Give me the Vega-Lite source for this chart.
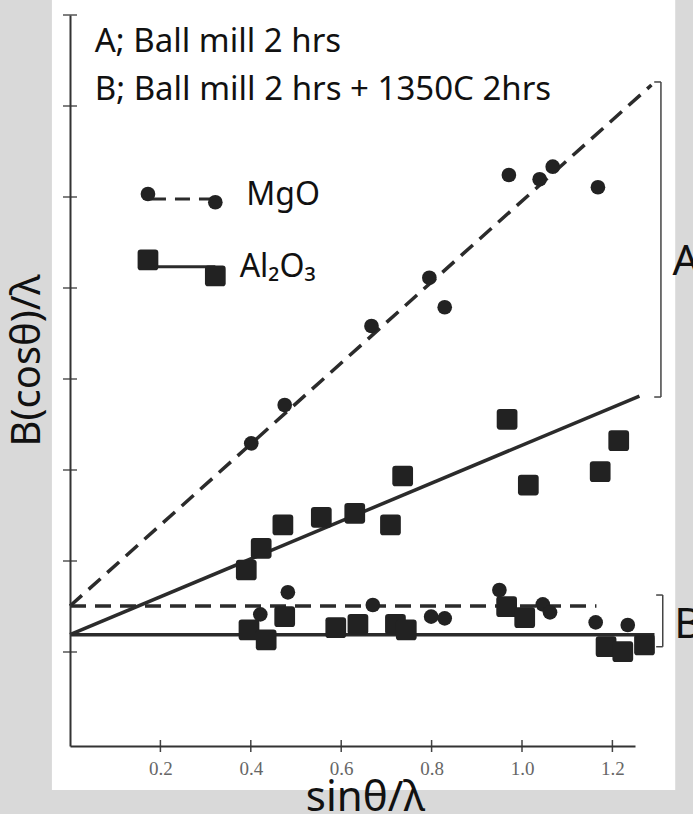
{
  "$schema": "https://vega.github.io/schema/vega-lite/v6.json",
  "width": 565,
  "height": 731,
  "autosize": {"type": "none"},
  "padding": {"left": 70, "top": 15, "right": 58, "bottom": 68},
  "background": "#d9d9d9",
  "config": {"view": {"stroke": null}, "font": "Noto Sans"},
  "datasets": {
    "paper": [{"x": -0.04, "x2": 1.339, "y": -0.516, "y2": 8.3}],
    "segments": [
      {"material": "MgO", "role": "fit", "x": 0, "y": 1.505, "x2": 1.2864, "y2": 7.231},
      {"material": "MgO", "role": "fit", "x": 0, "y": 1.505, "x2": 1.1647, "y2": 1.505},
      {"material": "Al2O3", "role": "fit", "x": 0, "y": 1.19, "x2": 1.2598, "y2": 3.813},
      {"material": "Al2O3", "role": "fit", "x": 0, "y": 1.19, "x2": 1.2931, "y2": 1.19},
      {"material": "MgO", "role": "legend", "x": 0.1725, "y": 5.978, "x2": 0.3215, "y2": 5.978},
      {"material": "Al2O3", "role": "legend", "x": 0.1725, "y": 5.234, "x2": 0.3215, "y2": 5.234},
      {"material": "A", "role": "bracket", "x": 1.3074, "y": 7.264, "x2": 1.3074, "y2": 3.802},
      {"material": "A", "role": "bracket", "x": 1.2925, "y": 7.264, "x2": 1.3074, "y2": 7.264},
      {"material": "A", "role": "bracket", "x": 1.2925, "y": 3.802, "x2": 1.3074, "y2": 3.802},
      {"material": "B", "role": "bracket", "x": 1.3114, "y": 1.626, "x2": 1.3114, "y2": 1.058},
      {"material": "B", "role": "bracket", "x": 1.2968, "y": 1.626, "x2": 1.3114, "y2": 1.626},
      {"material": "B", "role": "bracket", "x": 1.2968, "y": 1.058, "x2": 1.3114, "y2": 1.058}
    ],
    "xticks": [
      {"x": 0.2, "y": -0.033}, {"x": 0.4, "y": -0.033}, {"x": 0.6, "y": -0.033},
      {"x": 0.8, "y": -0.033}, {"x": 1.0, "y": -0.033}, {"x": 1.2, "y": -0.033}
    ],
    "yticks": [
      {"x": 0, "y": 1}, {"x": 0, "y": 2}, {"x": 0, "y": 3}, {"x": 0, "y": 4},
      {"x": 0, "y": 5}, {"x": 0, "y": 6}, {"x": 0, "y": 7}, {"x": 0, "y": 8}
    ],
    "points": [
      {"material": "MgO", "condition": "A", "x": 0.401, "y": 3.293},
      {"material": "MgO", "condition": "A", "x": 0.475, "y": 3.714},
      {"material": "MgO", "condition": "A", "x": 0.667, "y": 4.582},
      {"material": "MgO", "condition": "A", "x": 0.795, "y": 5.113},
      {"material": "MgO", "condition": "A", "x": 0.829, "y": 4.788},
      {"material": "MgO", "condition": "A", "x": 0.971, "y": 6.242},
      {"material": "MgO", "condition": "A", "x": 1.039, "y": 6.195},
      {"material": "MgO", "condition": "A", "x": 1.068, "y": 6.333},
      {"material": "MgO", "condition": "A", "x": 1.168, "y": 6.107},
      {"material": "MgO", "condition": "B", "x": 0.421, "y": 1.414},
      {"material": "MgO", "condition": "B", "x": 0.482, "y": 1.656},
      {"material": "MgO", "condition": "B", "x": 0.670, "y": 1.516},
      {"material": "MgO", "condition": "B", "x": 0.799, "y": 1.388},
      {"material": "MgO", "condition": "B", "x": 0.829, "y": 1.370},
      {"material": "MgO", "condition": "B", "x": 0.950, "y": 1.681},
      {"material": "MgO", "condition": "B", "x": 1.046, "y": 1.524},
      {"material": "MgO", "condition": "B", "x": 1.062, "y": 1.436},
      {"material": "MgO", "condition": "B", "x": 1.163, "y": 1.326},
      {"material": "MgO", "condition": "B", "x": 1.234, "y": 1.297},
      {"material": "MgO", "condition": "legend", "x": 0.1725, "y": 6.033},
      {"material": "MgO", "condition": "legend", "x": 0.3215, "y": 5.942},
      {"material": "Al2O3", "condition": "A", "x": 0.390, "y": 1.901},
      {"material": "Al2O3", "condition": "A", "x": 0.423, "y": 2.140},
      {"material": "Al2O3", "condition": "A", "x": 0.471, "y": 2.396},
      {"material": "Al2O3", "condition": "A", "x": 0.556, "y": 2.480},
      {"material": "Al2O3", "condition": "A", "x": 0.630, "y": 2.524},
      {"material": "Al2O3", "condition": "A", "x": 0.709, "y": 2.396},
      {"material": "Al2O3", "condition": "A", "x": 0.736, "y": 2.934},
      {"material": "Al2O3", "condition": "A", "x": 0.967, "y": 3.557},
      {"material": "Al2O3", "condition": "A", "x": 1.014, "y": 2.835},
      {"material": "Al2O3", "condition": "A", "x": 1.173, "y": 2.981},
      {"material": "Al2O3", "condition": "A", "x": 1.214, "y": 3.322},
      {"material": "Al2O3", "condition": "B", "x": 0.396, "y": 1.242},
      {"material": "Al2O3", "condition": "B", "x": 0.434, "y": 1.132},
      {"material": "Al2O3", "condition": "B", "x": 0.475, "y": 1.388},
      {"material": "Al2O3", "condition": "B", "x": 0.588, "y": 1.267},
      {"material": "Al2O3", "condition": "B", "x": 0.637, "y": 1.304},
      {"material": "Al2O3", "condition": "B", "x": 0.720, "y": 1.304},
      {"material": "Al2O3", "condition": "B", "x": 0.744, "y": 1.242},
      {"material": "Al2O3", "condition": "B", "x": 0.966, "y": 1.498},
      {"material": "Al2O3", "condition": "B", "x": 1.006, "y": 1.377},
      {"material": "Al2O3", "condition": "B", "x": 1.186, "y": 1.058},
      {"material": "Al2O3", "condition": "B", "x": 1.223, "y": 1.003},
      {"material": "Al2O3", "condition": "B", "x": 1.271, "y": 1.077},
      {"material": "Al2O3", "condition": "legend", "x": 0.1725, "y": 5.308},
      {"material": "Al2O3", "condition": "legend", "x": 0.3215, "y": 5.132}
    ],
    "notes": [
      {"role": "header", "x": 0.0548, "y": 7.593, "text": "A; Ball mill 2 hrs"},
      {"role": "header", "x": 0.0548, "y": 7.066, "text": "B; Ball mill 2 hrs + 1350C 2hrs"},
      {"role": "legend", "x": 0.390, "y": 5.912, "text": "MgO"},
      {"role": "legend", "x": 0.3753, "y": 5.121, "text": "Al₂O₃"},
      {"role": "bracket", "x": 1.3328, "y": 5.286, "text": "A"},
      {"role": "bracket", "x": 1.337, "y": 1.297, "text": "B"}
    ]
  },
  "encoding": {
    "x": {
      "field": "x", "type": "quantitative",
      "scale": {"domain": [0, 1.25], "nice": false, "zero": false},
      "axis": {
        "title": "sinθ/λ", "values": [0.2, 0.4, 0.6, 0.8, 1.0, 1.2], "format": ".1f",
        "grid": false, "ticks": false, "tickSize": 0,
        "domainColor": "#333", "domainWidth": 2,
        "labelFont": "Liberation Serif", "labelFontSize": 19, "labelColor": "#666", "labelPadding": 13,
        "titleFont": "Noto Sans", "titleFontSize": 42, "titleFontWeight": "normal", "titleColor": "#111",
        "titleX": 295, "titleY": 64, "titleBaseline": "alphabetic", "zindex": 1
      }
    },
    "y": {
      "field": "y", "type": "quantitative",
      "scale": {"domain": [-0.033, 8], "nice": false, "zero": false},
      "axis": {
        "title": "B(cosθ)/λ", "grid": false, "ticks": false, "labels": false,
        "domainColor": "#333", "domainWidth": 2,
        "titleFont": "Noto Sans", "titleFontSize": 40, "titleFontWeight": "normal", "titleColor": "#111",
        "titleX": -43, "titleY": 345, "titleBaseline": "middle", "titleAngle": 270, "zindex": 1
      }
    }
  },
  "layer": [
    {
      "data": {"name": "paper"},
      "mark": {"type": "rect", "color": "white"},
      "encoding": {"x2": {"field": "x2"}, "y2": {"field": "y2"}}
    },
    {
      "data": {"name": "segments"},
      "transform": [{"filter": "datum.role == 'fit' && datum.material == 'MgO'"}],
      "mark": {"type": "rule", "color": "#2b2b2b", "strokeWidth": 3.5, "strokeDash": [16, 9]},
      "encoding": {"x2": {"field": "x2"}, "y2": {"field": "y2"}}
    },
    {
      "data": {"name": "segments"},
      "transform": [{"filter": "datum.role == 'fit' && datum.material == 'Al2O3'"}],
      "mark": {"type": "rule", "color": "#2b2b2b", "strokeWidth": 3.5},
      "encoding": {"x2": {"field": "x2"}, "y2": {"field": "y2"}}
    },
    {
      "data": {"name": "segments"},
      "transform": [{"filter": "datum.role == 'legend' && datum.material == 'MgO'"}],
      "mark": {"type": "rule", "color": "#2b2b2b", "strokeWidth": 3, "strokeDash": [15, 9], "strokeDashOffset": -3},
      "encoding": {"x2": {"field": "x2"}, "y2": {"field": "y2"}}
    },
    {
      "data": {"name": "segments"},
      "transform": [{"filter": "datum.role == 'legend' && datum.material == 'Al2O3'"}],
      "mark": {"type": "rule", "color": "#2b2b2b", "strokeWidth": 3},
      "encoding": {"x2": {"field": "x2"}, "y2": {"field": "y2"}}
    },
    {
      "data": {"name": "segments"},
      "transform": [{"filter": "datum.role == 'bracket'"}],
      "mark": {"type": "rule", "color": "#444", "strokeWidth": 1.5},
      "encoding": {"x2": {"field": "x2"}, "y2": {"field": "y2"}}
    },
    {
      "data": {"name": "xticks"},
      "mark": {"type": "tick", "orient": "vertical", "size": 12, "thickness": 1.5, "color": "#444", "opacity": 1}
    },
    {
      "data": {"name": "yticks"},
      "mark": {"type": "tick", "orient": "horizontal", "size": 14, "thickness": 1.5, "color": "#555", "opacity": 1}
    },
    {
      "data": {"name": "points"},
      "transform": [{"filter": "datum.material == 'MgO'"}],
      "mark": {"type": "point", "shape": "circle", "filled": true, "size": 215, "color": "#222", "opacity": 1}
    },
    {
      "data": {"name": "points"},
      "transform": [{"filter": "datum.material == 'Al2O3'"}],
      "mark": {
        "type": "point", "filled": true, "size": 430, "color": "#222", "opacity": 1,
        "shape": "M-0.7,-1L0.7,-1Q1,-1 1,-0.7L1,0.7Q1,1 0.7,1L-0.7,1Q-1,1 -1,0.7L-1,-0.7Q-1,-1 -0.7,-1Z"
      }
    },
    {
      "data": {"name": "notes"},
      "transform": [{"filter": "datum.role == 'header'"}],
      "mark": {"type": "text", "align": "left", "baseline": "alphabetic", "font": "Noto Sans", "fontSize": 33, "color": "#111"},
      "encoding": {"text": {"field": "text"}}
    },
    {
      "data": {"name": "notes"},
      "transform": [{"filter": "datum.role == 'legend'"}],
      "mark": {"type": "text", "align": "left", "baseline": "alphabetic", "font": "Noto Sans", "fontSize": 32, "color": "#111"},
      "encoding": {"text": {"field": "text"}}
    },
    {
      "data": {"name": "notes"},
      "transform": [{"filter": "datum.role == 'bracket'"}],
      "mark": {"type": "text", "align": "left", "baseline": "middle", "font": "Noto Sans", "fontSize": 42, "color": "#111"},
      "encoding": {"text": {"field": "text"}}
    }
  ]
}
